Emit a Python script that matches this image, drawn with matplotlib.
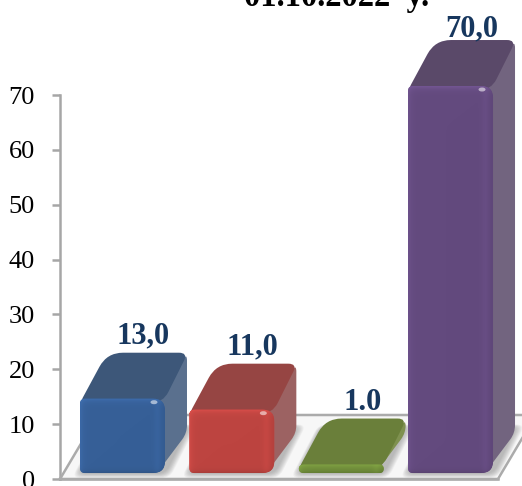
import numpy as np
import matplotlib
matplotlib.use("Agg")
import matplotlib.pyplot as plt
from matplotlib.path import Path
from matplotlib.patches import PathPatch, Ellipse

plt.rcParams['font.family'] = ['Liberation Serif', 'DejaVu Serif']

# --- data ---
values = [13.0, 11.0, 1.0, 70.0]
value_labels = ['13,0', '11,0', '1.0', '70,0']
title_text = '01.10.2022  y.'
y_ticks = [0, 10, 20, 30, 40, 50, 60, 70]
front_colors = ['#365F97', '#BD4440', '#6F8C3A', '#634A7E']
top_colors = ['#3D5779', '#964543', '#6A7F3A', '#5A4969']
side_colors = ['#5A708E', '#9C6262', '#7F9150', '#72647F']

W, H = 522, 486
DX, DY = 23, 46          # depth of the boxes, px
BEVEL = 3                # px

fig = plt.figure(figsize=(W / 100, H / 100), dpi=100)
fig.patch.set_facecolor('white')
ax = fig.add_axes([60 / W, (H - 479) / H, 438 / W, 384 / H])
ax.set_xlim(-0.5717, 3.434)
ax.set_ylim(0, 70)
ax.set_yticks(y_ticks)
ax.set_xticks([])
ax.tick_params(axis='y', length=6, width=1.8, color='#A6A6A6', labelsize=19, pad=12)
for s in ('top', 'right'):
    ax.spines[s].set_visible(False)
for s in ('left', 'bottom'):
    ax.spines[s].set_color('#A6A6A6')
    ax.spines[s].set_linewidth(1.8)
bars = ax.bar(range(len(values)), values, width=0.777, bottom=1.09, color=front_colors, zorder=1)

pix = fig.add_axes([0, 0, 1, 1], zorder=5)
pix.set_xlim(0, W)
pix.set_ylim(H, 0)
pix.axis('off')
pix.patch.set_alpha(0)


def rounded(pts, radii):
    pts = np.asarray(pts, float)
    n = len(pts)
    if np.isscalar(radii):
        radii = [radii] * n
    verts, codes = [], []
    for i in range(n):
        p, a, b = pts[i], pts[i - 1], pts[(i + 1) % n]
        r = radii[i]
        ua = (a - p) / np.linalg.norm(a - p)
        ub = (b - p) / np.linalg.norm(b - p)
        s, e = p + ua * r, p + ub * r
        verts += [s, p, e]
        codes += [Path.LINETO if i else Path.MOVETO, Path.CURVE3, Path.CURVE3]
    verts.append(verts[0])
    codes.append(Path.CLOSEPOLY)
    return Path(verts, codes)


def add(path, color, z, alpha=1.0, ec='none'):
    p = PathPatch(path, facecolor=color, edgecolor=ec, lw=0, alpha=alpha, zorder=z)
    pix.add_patch(p)
    return p


# floor
floor = [(60, 479), (498, 479), (536, 415), (98, 415)]
add(Path(floor + [floor[0]], closed=True), '#F7F7F7', 1)
pix.plot([60, 498, 536, 98, 60], [479, 479, 415, 415, 479], color='#ABABAB', lw=1.8, zorder=1.1,
         solid_joinstyle='miter')

fig.canvas.draw()
inv = pix.transData.inverted()
for i, bar in enumerate(bars):
    ext = bar.get_window_extent()
    (x0, y1), (x1, y0) = inv.transform([(ext.x0, ext.y0), (ext.x1, ext.y1)])
    y0 -= BEVEL
    z = 2 + i
    # soft shadow on the floor
    for g in range(8, 0, -1):
        sh = [(x0 - g, y1 + g * .6), (x1 + g * .6, y1 + g * .6),
              (x1 + DX + g * 1.1, y1 - DY - g * .3), (x0 + DX - g * .4, y1 - DY - g * .3)]
        add(rounded(sh, 8), '#707070', z, alpha=0.07)
    h = y1 - y0
    r = min(12, h / 2)
    # side face
    side = [(x1 - 8, y0), (x1 + DX - 1, y0 - DY), (x1 + DX - 1, y1 - DY + 6), (x1 - 8, y1)]
    add(rounded(side, [2, 8, 8, 2]), side_colors[i], z + .1)
    # top face
    top = [(x0, y0 + 4), (x1 - 2, y0 + 4), (x1 + DX, y0 - DY), (x0 + DX + 4, y0 - DY)]
    add(rounded(top, [6, 12, 9, 16]), top_colors[i], z + .2)
    # front face with a bevel
    front = add(rounded([(x0, y0), (x1, y0), (x1, y1), (x0, y1)], [5, r, r, 5]), front_colors[i], z + .3)
    nx, ny = 60, max(int(h), 4)
    xx = np.linspace(0, x1 - x0, nx)[None, :]
    yy = np.linspace(0, h, ny)[:, None]
    rgb = np.array(matplotlib.colors.to_rgb(front_colors[i]))
    shade = np.ones((ny, nx))
    shade += 0.10 * np.exp(-xx / 3) - 0.04 * np.exp(-(x1 - x0 - xx) / 4)
    shade += 0.05 * np.exp(-(xx - (x1 - x0 - 7)) ** 2 / 12)
    shade += 0.16 * np.exp(-yy / 3) - 0.10 * np.exp(-(h - yy) / 2.5)
    img = np.clip(rgb[None, None, :] * shade[:, :, None], 0, 1)
    im = pix.imshow(img, extent=(x0, x1, y1, y0), aspect='auto', zorder=z + .35, interpolation='bilinear')
    im.set_clip_path(front)
    # highlight
    if h > 20:
        pix.add_patch(Ellipse((x1 - 11, y0 + 3.5), 7, 4, color='white', alpha=0.55, lw=0, zorder=z + .4))
    pix.set_xlim(0, W)
    pix.set_ylim(H, 0)
    # value label
    pix.text((x0 + x1) / 2 + 21, y0 - DY - (4 if i == 3 else 9), value_labels[i], ha='center', va='baseline',
             fontsize=22, fontweight='bold', color='#17375E', zorder=20)

pix.text(337, 6, title_text, ha='center', va='baseline', fontsize=23.5, fontweight='bold',
         color='black', zorder=20)

fig.savefig('out.png', dpi=100)
